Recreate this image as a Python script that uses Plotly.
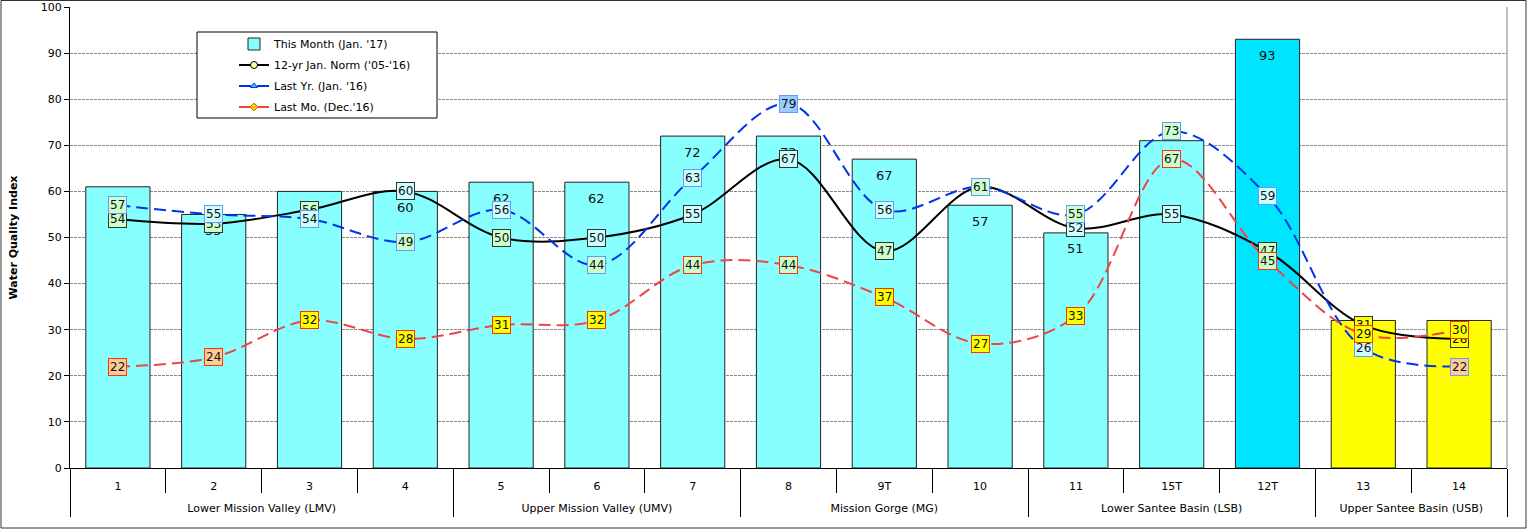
import plotly.graph_objects as go

# ---- data -------------------------------------------------------------
group_names = ["Lower Mission Valley (LMV)", "Upper Mission Valley (UMV)",
               "Mission Gorge (MG)", "Lower Santee Basin (LSB)", "Upper Santee Basin (USB)"]
group_sizes = [4, 3, 3, 3, 2]
sites = ["1", "2", "3", "4", "5", "6", "7", "8", "9T", "10", "11", "15T", "12T", "13", "14"]

this_month = [61, 55, 60, 60, 62, 62, 72, 72, 67, 57, 51, 71, 93, 32, 32]
norm_12yr = [54, 53, 56, 60, 50, 50, 55, 67, 47, 61, 52, 55, 47, 31, 28]
last_year = [57, 55, 54, 49, 56, 44, 63, 79, 56, 61, 55, 73, 59, 26, 22]
last_month = [22, 24, 32, 28, 31, 32, 44, 44, 37, 27, 33, 67, 45, 29, 30]

y_ticks = [0, 10, 20, 30, 40, 50, 60, 70, 80, 90, 100]

# ---- styling ----------------------------------------------------------
FONT = "DejaVu Sans"
G, C, B, Y, P = "#CCFFCC", "#CCFFFF", "#99CCFF", "#FFFF00", "#FFCC99"
bar_colors = ["#88FFFF"] * 12 + ["#00E5FF"] + ["#FFFF00"] * 2
norm_fill = [G, G, G, C, G, C, C, C, G, C, C, C, G, Y, Y]
year_fill = [G, C, C, G, C, G, C, B, C, G, G, G, C, C, P]
month_fill = [P, P, Y, Y, Y, Y, G, G, Y, Y, Y, G, G, Y, Y]

W, H = 1528, 531
ML, MR, MT, MB = 70, 21, 7, 63
PW, PH = W - ML - MR, H - MT - MB


def px_x(px):
    return (px - ML) / PW


def px_y(py):
    return (H - MB - py) / PH


# category boundaries on the site axis (index space)
n_sites = len(sites)
x_range = [-0.5, n_sites - 0.5]
site_bounds = [i - 0.5 for i in range(n_sites + 1)]
group_bounds = [-0.5]
for s in group_sizes:
    group_bounds.append(group_bounds[-1] + s)
group_centers = [(a + b) / 2 for a, b in zip(group_bounds[:-1], group_bounds[1:])]

fig = go.Figure()

fig.add_trace(go.Bar(
    x=sites, y=this_month, name="This Month (Jan. '17)", legendgroup="a",
    marker=dict(color=bar_colors, line=dict(color="#222222", width=1)),
))

fig.add_trace(go.Scatter(
    x=sites, y=norm_12yr, name="12-yr Jan. Norm ('05-'16)", legendgroup="b",
    mode="lines+markers", line=dict(color="black", width=2, shape="spline", smoothing=1),
    marker=dict(symbol="circle", size=7, color="#FFFF99", line=dict(color="black", width=1)),
))

fig.add_trace(go.Scatter(
    x=sites, y=last_year, name="Last Yr. (Jan. '16)", legendgroup="c",
    mode="lines+markers",
    line=dict(color="#0033EE", width=2, dash="12px,6px", shape="spline", smoothing=1),
    marker=dict(symbol="triangle-up", size=6, color="#33CCFF", line=dict(color="#0033EE", width=1)),
))

fig.add_trace(go.Scatter(
    x=sites, y=last_month, name="Last Mo. (Dec.'16)", legendgroup="d",
    mode="lines+markers",
    line=dict(color="#EE4444", width=2, dash="12px,6px", shape="spline", smoothing=1),
    marker=dict(symbol="diamond", size=6, color="#FFCC00", line=dict(color="#CC6600", width=1)),
))

# empty traces that carry the group-boundary and group-label axes
fig.add_trace(go.Scatter(x=[], y=[], xaxis="x2", showlegend=False, hoverinfo="skip"))
fig.add_trace(go.Scatter(x=[], y=[], xaxis="x3", showlegend=False, hoverinfo="skip"))

annotations = []
# bar values, just inside the top of each bar
for i, v in enumerate(this_month):
    annotations.append(dict(
        x=i, y=v, xref="x", yref="y", text=str(v), showarrow=False,
        yanchor="middle", yshift=-16,
        font=dict(family=FONT, size=13, color="#111111"),
    ))
# value boxes on the line series (norm first, then last year, then last month on top)
for values, fills, border in ((norm_12yr, norm_fill, "#333333"),
                              (last_year, year_fill, "#6699FF"),
                              (last_month, month_fill, "#FF3300")):
    for i, v in enumerate(values):
        annotations.append(dict(
            x=i, y=v, xref="x", yref="y", text=str(v), showarrow=False,
            font=dict(family=FONT, size=12, color="#111111"),
            bgcolor=fills[i], bordercolor=border, borderwidth=1, borderpad=1,
        ))

shapes = [
    # legend frame
    dict(type="rect", xref="paper", yref="paper",
         x0=px_x(197), x1=px_x(437), y0=px_y(118), y1=px_y(32),
         fillcolor="white", line=dict(color="black", width=1), layer="above"),
    # right edge of plot area
    dict(type="line", xref="paper", yref="paper", x0=1, x1=1, y0=0, y1=1,
         line=dict(color="#808080", width=1)),
    # outer chart frame
    dict(type="rect", xref="paper", yref="paper",
         x0=px_x(1), x1=px_x(1526), y0=px_y(528), y1=px_y(0.5),
         line=dict(color="#333333", width=1)),
]

tick_font = dict(family=FONT, size=11, color="black")

fig.update_layout(
    width=W, height=H,
    margin=dict(l=ML, r=MR, t=MT, b=MB, pad=0, autoexpand=False),
    paper_bgcolor="white", plot_bgcolor="white",
    font=dict(family=FONT, size=11, color="black"),
    bargap=0.33,
    showlegend=True,
    legend=dict(
        x=px_x(234), y=px_y(29.5), xanchor="left", yanchor="top",
        bgcolor="rgba(0,0,0,0)", borderwidth=0,
        font=dict(family=FONT, size=11, color="black"),
        traceorder="grouped", tracegroupgap=2,
    ),
    annotations=annotations,
    shapes=shapes,
    # site labels
    xaxis=dict(
        type="category", range=x_range, showgrid=False, automargin=False,
        showline=True, linecolor="black", linewidth=1,
        ticks="", ticklabelstandoff=8, tickfont=tick_font,
    ),
    # separators: long ticks between groups, short ticks between sites
    xaxis2=dict(
        type="linear", overlaying="x", anchor="y", side="bottom", range=x_range,
        showgrid=False, zeroline=False, showline=False, showticklabels=False,
        automargin=False,
        tickmode="array", tickvals=group_bounds, ticks="outside", ticklen=48,
        tickcolor="black", tickwidth=1,
        minor=dict(tickmode="array", tickvals=site_bounds, ticks="outside",
                   ticklen=24, tickcolor="black", tickwidth=1, showgrid=False),
    ),
    # group labels
    xaxis3=dict(
        type="linear", overlaying="x", anchor="y", side="bottom", range=x_range,
        showgrid=False, zeroline=False, showline=False, automargin=False,
        tickmode="array", tickvals=group_centers, ticktext=group_names,
        ticks="", ticklabelstandoff=32, tickfont=tick_font,
    ),
    yaxis=dict(
        range=[0, 100], tickvals=y_ticks, ticks="outside", ticklen=5,
        tickcolor="black", showline=True, linecolor="black", linewidth=1,
        showgrid=True, gridcolor="#888888", gridwidth=1, griddash="3px,1px",
        zeroline=False, automargin=False,
        tickfont=tick_font,
        title=dict(text="<b>Water Quality Index</b>", font=dict(family=FONT, size=11, color="black"),
                   standoff=20),
    ),
)

fig.write_html("out.html")
